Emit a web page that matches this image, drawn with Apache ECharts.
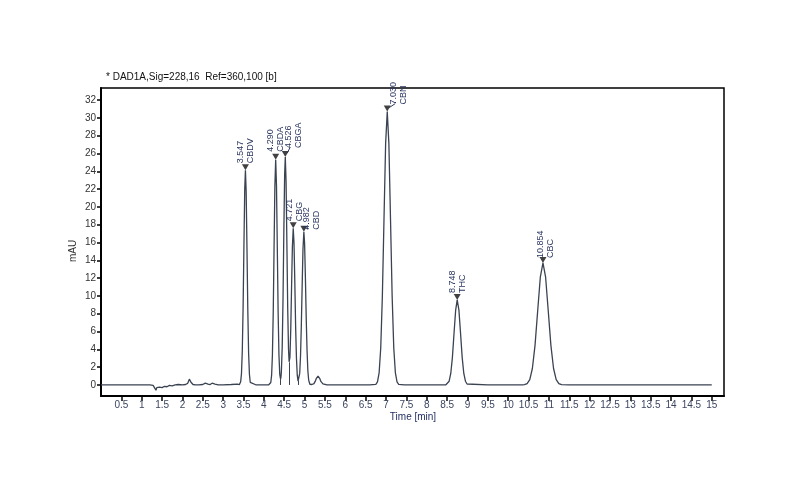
<!DOCTYPE html>
<html><head><meta charset="utf-8">
<script src="https://cdn.jsdelivr.net/npm/echarts@6/dist/echarts.min.js"></script>
<style>html,body{margin:0;padding:0;background:#fff}#c{width:800px;height:488px}</style>
</head><body><div id="c"></div>
<script>
// ---------------- data ----------------
const chartTitle = '* DAD1A,Sig=228,16  Ref=360,100 [b]';
const xName = 'Time [min]';
const yName = 'mAU';
const xTicks = [0.5,1,1.5,2,2.5,3,3.5,4,4.5,5,5.5,6,6.5,7,7.5,8,8.5,9,9.5,10,10.5,11,11.5,12,12.5,13,13.5,14,14.5,15];
const yTicks = [0,2,4,6,8,10,12,14,16,18,20,22,24,26,28,30,32];

// chromatogram trace (time in min, absorbance in mAU)
const signalTime = [
  0,0.5,1.0,1.2,1.28,1.32,1.35,1.37,1.40,1.44,1.50,1.56,1.62,1.68,1.75,1.82,1.90,2.00,2.08,2.13,2.17,2.21,2.26,2.32,2.40,2.50,2.56,2.59,2.63,2.68,2.73,2.76,2.80,2.88,3.00,3.20,3.35,
  3.40,3.43,3.45,3.47,3.49,3.51,3.53,3.547,3.565,3.585,3.605,3.625,3.645,3.665,3.70,3.80,4.00,4.12,
  4.17,4.19,4.21,4.23,4.25,4.27,4.29,4.31,4.33,4.35,4.37,4.39,4.41,4.42,
  4.43,4.45,4.47,4.49,4.51,4.526,4.545,4.565,4.585,4.605,4.62,4.63,4.64,4.66,
  4.68,4.70,4.721,4.74,4.76,4.78,4.80,4.82,4.84,4.86,4.88,
  4.90,4.92,4.94,4.96,4.982,5.00,5.02,5.04,5.06,5.08,5.10,5.13,
  5.18,5.23,5.26,5.29,5.33,5.37,5.40,5.45,5.55,5.80,6.20,6.60,
  6.75,6.79,6.83,6.87,6.91,6.95,6.99,7.03,7.07,7.11,7.15,7.19,7.23,7.27,7.31,7.45,8.00,8.40,
  8.47,8.51,8.55,8.59,8.63,8.67,8.71,8.748,8.79,8.83,8.87,8.91,8.95,8.99,9.03,9.50,10.00,10.35,
  10.40,10.465,10.53,10.594,10.659,10.724,10.789,10.854,10.919,10.984,11.049,11.114,11.179,11.244,11.31,11.50,12.0,13.0,14.0,15.0
];
const signalValue = [
  0,0,0,0,-0.05,-0.35,-0.6,-0.3,-0.45,-0.25,-0.3,-0.15,-0.2,-0.05,-0.1,0.0,0.05,0.0,0.05,0.2,0.65,0.3,0.05,0.0,0.0,0.05,0.2,0.35,0.1,0.05,0.2,0.35,0.1,0.0,0.0,0.05,0.1,
  0.05,0.36,1.28,3.84,8.76,15.6,22.0,24.1,21.7,15.3,8.5,3.6,1.2,0.3,0.08,0.02,0.0,0.02,
  0.28,1.1,3.4,8.2,15.3,22.3,25.3,22.3,15.3,8.2,3.4,1.2,0.66,0.9,
  1.5,4.2,9.6,17.1,23.6,25.6,22.9,15.9,8.7,4.0,2.6,2.55,3.1,6.2,
  11.0,15.5,17.6,15.9,11.5,6.5,3.0,1.1,0.44,0.5,1.3,
  3.27,6.7,11.1,15.2,17.2,15.9,12.0,7.5,3.9,1.6,0.55,0.08,
  0.05,0.15,0.4,0.75,1.0,0.75,0.4,0.12,0.02,0.0,0.0,0.0,
  0.07,0.34,1.35,4.15,10.0,18.6,27.1,30.7,27.1,18.6,10.0,4.15,1.35,0.34,0.07,0.0,0.0,0.0,
  0.02,0.11,0.42,1.29,3.1,5.8,8.4,9.55,8.4,5.8,3.1,1.29,0.42,0.11,0.02,0.0,0.0,0.0,
  0.03,0.15,0.6,1.85,4.45,8.3,12.1,13.7,12.1,8.3,4.45,1.85,0.6,0.15,0.03,0.0,0.0,0.0,0.0,0.0
];

// integrated peaks
const peakTime   = [3.547, 4.290, 4.526, 4.721, 4.982, 7.030, 8.748, 10.854];
const peakHeight = [24.1, 25.3, 25.6, 17.6, 17.2, 30.7, 9.55, 13.7];
const peakName   = ['CBDV','CBDA','CBGA','CBG','CBD','CBN','THC','CBC'];
const peakRT     = ['3.547','4.290','4.526','4.721','4.982','7.030','8.748','10.854'];

// drop lines between unresolved peaks
const dropTime  = [4.41, 4.63, 4.85];
const dropValue = [0.66, 2.55, 0.45];

// ---------------- layout / style ----------------
const FONT = '"Liberation Sans", Arial, sans-serif';
const labelShift = [[0,-7],[0,-8],[8,-9],[1,-7],[8,-2],[11,-7],[0,-7],[3,-5]]; // pixel offsets of annotation
const leader = [false,false,true,false,true,true,false,false];

const chart = echarts.init(document.getElementById('c'), null, {renderer:'canvas'});
const signal = signalTime.map((t,i)=>[t, signalValue[i]]);
const peaks = peakTime.map((t,i)=>[t, peakHeight[i]]);

chart.setOption({
  animation:false,
  grid:{left:101, top:88, right:76, bottom:92, show:true, borderColor:'#000', borderWidth:1.5, backgroundColor:'transparent'},
  xAxis:{type:'value', min:0, max:15.3, interval:0.5,
    axisLine:{show:true, onZero:false, lineStyle:{color:'#000', width:2}},
    axisTick:{show:true, length:5, inside:false, lineStyle:{color:'#000', width:1.5}, customValues:xTicks},
    axisLabel:{customValues:xTicks, margin:4, color:'#3d4660', fontSize:10, fontFamily:FONT},
    splitLine:{show:false}},
  yAxis:{type:'value', min:-1.24, max:33.35, interval:2,
    axisLine:{show:true, onZero:false, lineStyle:{color:'#000', width:2}},
    axisTick:{show:true, length:4, lineStyle:{color:'#000', width:1.5}, customValues:yTicks},
    axisLabel:{customValues:yTicks, margin:5, color:'#333', fontSize:10, fontFamily:FONT},
    splitLine:{show:false}},
  series:[
    {type:'line', data:signal, showSymbol:false, symbol:'none', clip:true,
     lineStyle:{color:'#3a4352', width:1.3},
     markLine:{silent:true, symbol:'none', label:{show:false},
       lineStyle:{color:'#3a4352', width:1, type:'solid'},
       data: dropTime.map((t,i)=>[{coord:[t,0]},{coord:[t,dropValue[i]]}])}},
    {type:'scatter', data:peaks, symbol:'triangle', symbolRotate:180, symbolSize:[7,6], symbolOffset:[0,-3],
     itemStyle:{color:'#111'}, z:5}
  ]
});

const g = [
  {type:'text', x:106, y:77, style:{text:chartTitle, font:'10px '+FONT, fill:'#111', textVerticalAlign:'middle'}},
  {type:'text', x:73.5, y:251, rotation:Math.PI/2, style:{text:yName, font:'10px '+FONT, fill:'#333', textAlign:'center', textVerticalAlign:'middle'}},
  {type:'text', x:413, y:417.5, style:{text:xName, font:'10px '+FONT, fill:'#1e2a5e', textAlign:'center', textVerticalAlign:'middle'}}
];
peaks.forEach((p,i)=>{
  const px = chart.convertToPixel({gridIndex:0}, p);
  const ax = px[0]+labelShift[i][0], ay = px[1]+labelShift[i][1];
  g.push({type:'text', x:ax, y:ay, rotation:Math.PI/2, z:10,
    style:{text:peakRT[i]+'\n'+peakName[i], font:'9px '+FONT, lineHeight:10, fill:'#2a3660', textAlign:'left', textVerticalAlign:'middle'}});
  if (leader[i]) {
    g.push({type:'line', z:10, shape:{x1:px[0]+2, y1:px[1]-4, x2:ax-3, y2:ay-1}, style:{stroke:'#2a3660', lineWidth:1}});
  }
});
chart.setOption({graphic:g});
</script></body></html>
